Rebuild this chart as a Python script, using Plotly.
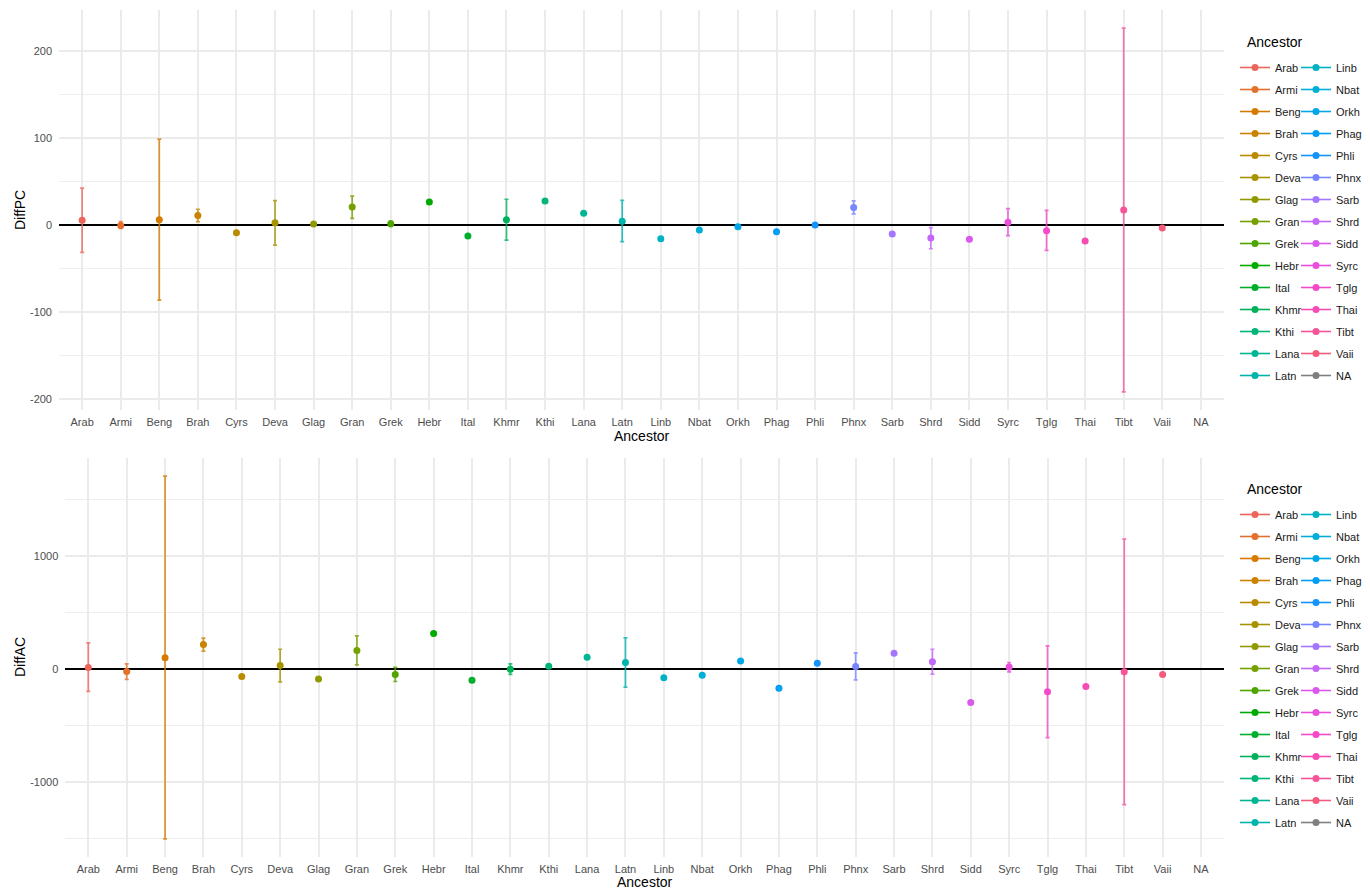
import math
import plotly.graph_objects as go

categories = ["Arab", "Armi", "Beng", "Brah", "Cyrs", "Deva", "Glag", "Gran", "Grek", "Hebr",
              "Ital", "Khmr", "Kthi", "Lana", "Latn", "Linb", "Nbat", "Orkh", "Phag", "Phli",
              "Phnx", "Sarb", "Shrd", "Sidd", "Syrc", "Tglg", "Thai", "Tibt", "Vaii", "NA"]

pc_mean = [5.6, -0.5, 6.3, 11.0, -8.7, 2.9, 1.3, 21.0, 1.5, 26.7,
           -12.5, 6.3, 27.9, 13.6, 4.4, -15.6, -5.6, -1.7, -7.5, 0.2,
           20.2, -10.2, -14.8, -16.3, 3.3, -6.3, -18.3, 17.5, -3.3, None]
pc_lower = [-31.3, -3.7, -86.3, 4.0, None, -22.9, None, 7.9, -1.3, None,
            None, -17.1, None, None, -19.0, None, None, None, None, None,
            12.9, None, -27.1, None, -12.1, -29.0, None, -191.7, None, None]
pc_upper = [42.5, 4.0, 99.0, 18.3, None, 28.3, None, 33.3, 4.8, None,
            None, 29.8, None, None, 28.6, None, None, None, None, None,
            27.9, None, -2.9, None, 19.0, 17.1, None, 226.6, None, None]

ac_mean = [15, -21, 100, 218, -65, 32, -88, 165, -47, 315,
           -97, 0, 26, 106, 59, -76, -53, 71, -168, 53,
           24, 141, 65, -294, 18, -200, -153, -24, -47, None]
ac_lower = [-197, -91, -1500, 159, None, -112, None, 38, -109, None,
            None, -47, None, None, -159, None, None, None, None, None,
            -94, None, -44, None, -24, -606, None, -1197, None, None]
ac_upper = [232, 47, 1706, 274, None, 176, None, 294, 15, None,
            None, 47, None, None, 276, None, None, None, None, None,
            144, None, 176, None, 59, 206, None, 1150, None, None]

pc_ticks = [-200, -100, 0, 100, 200]
pc_minor = [-150, -50, 50, 150]
ac_ticks = [-1000, 0, 1000]
ac_minor = [-1500, -500, 500, 1500]

# page is 1370x891; the browser body adds an 8px margin, so the figure is
# made 8px smaller and every page-pixel position is shifted by that margin
PAGE_OFF = 8
W, H = 1370 - PAGE_OFF, 891 - PAGE_OFF
FONT = "Liberation Sans, Arial, sans-serif"


def hcl_hex(h, c=100.0, l=65.0):
    Xn, Yn, Zn = 95.047, 100.0, 108.883
    hr = math.radians(h)
    U, V = c * math.cos(hr), c * math.sin(hr)
    Y = Yn * ((l + 16) / 116) ** 3 if l > 7.999592 else Yn * l / 903.3
    d = Xn + 15 * Yn + 3 * Zn
    un, vn = 4 * Xn / d, 9 * Yn / d
    u = U / (13 * l) + un
    v = V / (13 * l) + vn
    X = 9.0 * Y * u / (4 * v)
    Z = -X / 3 - 5 * Y + 3 * Y / v
    X, Y, Z = X / 100, Y / 100, Z / 100
    r = 3.240479 * X - 1.537150 * Y - 0.498535 * Z
    g = -0.969256 * X + 1.875992 * Y + 0.041556 * Z
    b = 0.055648 * X - 0.204043 * Y + 1.057311 * Z

    def gam(t):
        t = 12.92 * t if t <= 0.0031308 else 1.055 * t ** (1 / 2.4) - 0.055
        return int(round(max(0.0, min(1.0, t)) * 255))
    return "#%02X%02X%02X" % (gam(r), gam(g), gam(b))


n_lev = len(categories) - 1
colors = [hcl_hex(15 + i * 360.0 / n_lev, c=105, l=60) for i in range(n_lev)] + ["#7F7F7F"]


def rgba(hexc, a):
    return "rgba(%d,%d,%d,%.2f)" % (int(hexc[1:3], 16), int(hexc[3:5], 16), int(hexc[5:7], 16), a)


def px_x(p):
    return (p - PAGE_OFF) / W


def px_y(p):
    return 1 - (p - PAGE_OFF) / H


fig = go.Figure()

panels = [
    dict(mean=pc_mean, lo=pc_lower, hi=pc_upper, xa="x", ya="y", legs=("legend", "legend2"), tag="pc"),
    dict(mean=ac_mean, lo=ac_lower, hi=ac_upper, xa="x2", ya="y2", legs=("legend3", "legend4"), tag="ac"),
]

half = len(categories) // 2
for p in panels:
    for i, cat in enumerate(categories):
        m, lo, hi = p["mean"][i], p["lo"][i], p["hi"][i]
        err = dict(visible=False)
        if lo is not None and hi is not None and m is not None:
            err = dict(type="data", symmetric=False, array=[hi - m], arrayminus=[m - lo],
                       color=rgba(colors[i], 0.8), thickness=1.7, width=2)
        fig.add_trace(go.Scatter(
            x=[cat], y=[m], mode="lines+markers", name=cat,
            marker=dict(color=colors[i], size=7),
            line=dict(color=colors[i], width=1.6),
            error_y=err, xaxis=p["xa"], yaxis=p["ya"],
            legend=p["legs"][0] if i < half else p["legs"][1],
            legendgroup=p["tag"] + "_" + cat,
            hoverinfo="x+y",
        ))


def yrange(mean, lo, hi):
    vals = [v for v in mean + lo + hi if v is not None]
    a, b = min(vals), max(vals)
    pad = (b - a) * 0.05
    return [a - pad, b + pad]


ncat = len(categories)
axis_common = dict(
    showgrid=True, gridcolor="#EBEBEB", gridwidth=1.6,
    tickfont=dict(family=FONT, size=11, color="#4D4D4D"),
    showline=False, ticks="", zeroline=False,
)

fig.update_layout(
    width=W, height=H, margin=dict(l=0, r=0, t=0, b=0),
    paper_bgcolor="white", plot_bgcolor="white",
    font=dict(family=FONT, size=11, color="#1A1A1A"),
    showlegend=True,
    xaxis=dict(axis_common, domain=[px_x(59), px_x(1224)], anchor="y",
               type="category", categoryorder="array", categoryarray=categories,
               range=[-0.6, ncat - 0.4], ticklabelstandoff=4),
    yaxis=dict(axis_common, domain=[px_y(410), px_y(10)], anchor="x",
               range=yrange(pc_mean, pc_lower, pc_upper),
               tickmode="array", tickvals=pc_ticks, ticktext=[str(v) for v in pc_ticks],
               ticklabelstandoff=6,
               zeroline=True, zerolinecolor="#000000", zerolinewidth=1.6,
               minor=dict(showgrid=True, gridcolor="#EEEEEE", gridwidth=1.2, tickvals=pc_minor)),
    xaxis2=dict(axis_common, domain=[px_x(65.3), px_x(1224)], anchor="y2",
                type="category", categoryorder="array", categoryarray=categories,
                range=[-0.6, ncat - 0.4], ticklabelstandoff=4),
    yaxis2=dict(axis_common, domain=[px_y(857), px_y(458)], anchor="x2",
                range=yrange(ac_mean, ac_lower, ac_upper),
                tickmode="array", tickvals=ac_ticks, ticktext=[str(v) for v in ac_ticks],
                ticklabelstandoff=6,
                zeroline=True, zerolinecolor="#000000", zerolinewidth=1.6,
                minor=dict(showgrid=True, gridcolor="#EEEEEE", gridwidth=1.2, tickvals=ac_minor)),
)

leg_common = dict(font=dict(family=FONT, size=11, color="#1A1A1A"), bgcolor="rgba(0,0,0,0)",
                  borderwidth=0, tracegroupgap=3, traceorder="grouped",
                  xanchor="left", yanchor="top", orientation="v", itemclick=False, itemdoubleclick=False)
fig.update_layout(
    legend=dict(leg_common, x=px_x(1235), y=px_y(53)),
    legend2=dict(leg_common, x=px_x(1296), y=px_y(53)),
    legend3=dict(leg_common, x=px_x(1235), y=px_y(500)),
    legend4=dict(leg_common, x=px_x(1296), y=px_y(500)),
)

annots = [
    dict(text="Ancestor", x=px_x(641.5), y=px_y(436), size=14, angle=0, xanchor="center"),
    dict(text="Ancestor", x=px_x(644.7), y=px_y(882), size=14, angle=0, xanchor="center"),
    dict(text="DiffPC", x=px_x(20), y=px_y(210), size=14, angle=-90, xanchor="center"),
    dict(text="DiffAC", x=px_x(20), y=px_y(657), size=14, angle=-90, xanchor="center"),
    dict(text="Ancestor", x=px_x(1245), y=px_y(42), size=14, angle=0, xanchor="left"),
    dict(text="Ancestor", x=px_x(1245), y=px_y(489), size=14, angle=0, xanchor="left"),
]
for a in annots:
    fig.add_annotation(text=a["text"], x=a["x"], y=a["y"], xref="paper", yref="paper",
                       showarrow=False, textangle=a["angle"], xanchor=a["xanchor"], yanchor="middle",
                       font=dict(family=FONT, size=a["size"], color="#000000"))

fig.write_html("out.html")
